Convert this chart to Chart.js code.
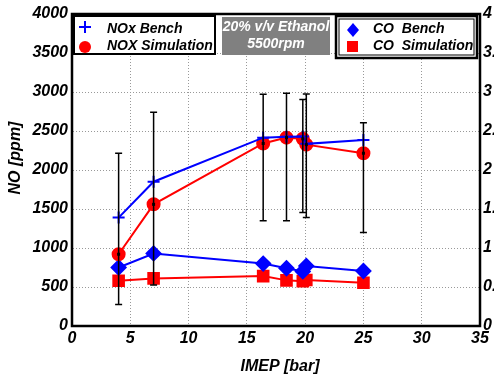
<!DOCTYPE html>
<html>
<head>
<meta charset="utf-8">
<script src="https://cdn.jsdelivr.net/npm/chart.js@4.4.0/dist/chart.umd.min.js"></script>
<style>
  body { margin: 0; background: #fff; }
  #myChart { display: block; }
</style>
</head>
<body>
<canvas id="myChart" width="494" height="383"></canvas>
<script>
// IMEP [bar] of each operating point
const imep = [4, 7, 16.4, 18.4, 19.8, 20.1, 25];
// NOx, ppm (left axis)
const noxBench = [1390, 1850, 2415, 2425, 2430, 2335, 2385];
const noxSim = [920, 1560, 2340, 2415, 2400, 2325, 2215];
// NOx bench scatter (error bar ends), ppm
const noxErrLow = [275, 525, 1350, 1350, 1455, 1390, 1200];
const noxErrHigh = [2215, 2740, 2970, 2985, 2905, 2975, 2605];
// CO (right axis)
const coBench = [0.75, 0.93, 0.80, 0.74, 0.70, 0.77, 0.705];
const coSim = [0.58, 0.61, 0.64, 0.585, 0.575, 0.59, 0.555];

const FONT = 'Liberation Sans, Arial, sans-serif';
const tickFont = { family: FONT, size: 16, style: 'italic', weight: 'bold' };

function pts(ys) {
    return imep.map((x, i) => ({ x: x, y: ys[i] }));
}

const extras = {
    id: 'extras',
    afterDatasetsDraw(chart) {
        const c = chart.ctx, xs = chart.scales.x, ys = chart.scales.y;
        c.save();
        c.strokeStyle = '#000';
        c.fillStyle = '#000';
        c.lineWidth = 1.5;
        imep.forEach((v, i) => {
            const px = xs.getPixelForValue(v);
            const top = ys.getPixelForValue(noxErrHigh[i]);
            const bot = ys.getPixelForValue(noxErrLow[i]);
            c.beginPath();
            c.moveTo(px, top); c.lineTo(px, bot);
            c.moveTo(px - 3.5, top); c.lineTo(px + 3.5, top);
            c.moveTo(px - 3.5, bot); c.lineTo(px + 3.5, bot);
            c.stroke();
            const py = ys.getPixelForValue(noxSim[i]);
            c.fillRect(px - 1.5, py - 1.5, 3, 3);
        });
        c.restore();
    },
    afterDraw(chart) {
        const c = chart.ctx, a = chart.chartArea;
        c.save();
        // frame
        c.strokeStyle = '#000';
        c.lineWidth = 2.5;
        c.strokeRect(a.left, a.top, a.right - a.left, a.bottom - a.top);

        // left legend box
        c.fillStyle = '#fff';
        c.fillRect(74, 16, 141, 38);
        c.lineWidth = 2;
        c.strokeRect(74, 16, 141, 38);
        c.strokeStyle = '#0000ff';
        c.lineWidth = 2;
        c.beginPath();
        c.moveTo(79, 27); c.lineTo(91, 27);
        c.moveTo(85, 21); c.lineTo(85, 33);
        c.stroke();
        c.fillStyle = '#ff0000';
        c.beginPath(); c.arc(85, 47, 6, 0, Math.PI * 2); c.fill();
        c.fillStyle = '#000';
        c.font = 'italic bold 14px ' + FONT;
        c.textAlign = 'left';
        c.textBaseline = 'middle';
        c.fillText('NOx Bench', 107, 29);
        c.fillText('NOX Simulation', 107, 46);

        // grey annotation
        c.fillStyle = '#808080';
        c.fillRect(222, 17, 108, 38);
        c.fillStyle = '#fff';
        c.textAlign = 'center';
        c.fillText('20% v/v Ethanol', 276, 27);
        c.fillText('5500rpm', 276, 44);

        // right legend box
        c.fillStyle = '#fff';
        c.fillRect(336, 16, 141, 42);
        c.strokeStyle = '#000';
        c.lineWidth = 2.5;
        c.strokeRect(336, 16, 141, 42);
        c.lineWidth = 1;
        c.strokeRect(339, 19, 135, 36);
        c.fillStyle = '#0000ff';
        c.beginPath();
        c.moveTo(353, 23); c.lineTo(359, 30); c.lineTo(353, 37); c.lineTo(347, 30);
        c.closePath(); c.fill();
        c.fillStyle = '#ff0000';
        c.fillRect(347, 41, 11, 11);
        c.fillStyle = '#000';
        c.textAlign = 'left';
        c.fillText('CO  Bench', 373, 29);
        c.fillText('CO  Simulation', 373, 46);

        // axis titles
        c.font = 'italic bold 16px ' + FONT;
        c.textAlign = 'center';
        c.fillText('IMEP [bar]', 280, 367);
        c.translate(16, 158);
        c.rotate(-Math.PI / 2);
        c.fillText('NO [ppm]', 0, 0);
        c.restore();
    }
};

const ctx = document.getElementById('myChart').getContext('2d');

new Chart(ctx, {
    type: 'line',
    data: {
        datasets: [
            {
                label: 'NOx Bench',
                data: pts(noxBench),
                yAxisID: 'y',
                borderColor: '#0000ff',
                borderWidth: 2,
                pointStyle: 'cross',
                pointRadius: 6,
                pointBorderWidth: 2,
                pointBorderColor: '#0000ff'
            },
            {
                label: 'NOX Simulation',
                data: pts(noxSim),
                yAxisID: 'y',
                borderColor: '#ff0000',
                borderWidth: 2,
                pointStyle: 'circle',
                pointRadius: 6,
                pointBackgroundColor: '#ff0000',
                pointBorderColor: '#ff0000'
            },
            {
                label: 'CO Bench',
                data: pts(coBench),
                yAxisID: 'y2',
                borderColor: '#0000ff',
                borderWidth: 2,
                pointStyle: 'rectRot',
                pointRadius: 7,
                pointBackgroundColor: '#0000ff',
                pointBorderColor: '#0000ff'
            },
            {
                label: 'CO Simulation',
                data: pts(coSim),
                yAxisID: 'y2',
                borderColor: '#ff0000',
                borderWidth: 2,
                pointStyle: 'rect',
                pointRadius: 7.5,
                pointBackgroundColor: '#ff0000',
                pointBorderColor: '#ff0000'
            }
        ]
    },
    options: {
        responsive: false,
        animation: false,
        layout: { padding: { top: 14, left: 0, right: 0, bottom: 0 } },
        plugins: { legend: { display: false }, tooltip: { enabled: false } },
        scales: {
            x: {
                type: 'linear',
                min: 0, max: 35,
                afterFit: s => { s.height = 57; },
                ticks: { stepSize: 5, autoSkip: false, maxRotation: 0, color: '#000', font: tickFont, padding: 3,
                         callback: v => String(v) },
                grid: { color: '#999', lineWidth: 1, drawTicks: false },
                border: { display: true, color: 'rgba(0,0,0,0)', dash: [1, 2] }
            },
            y: {
                position: 'left',
                min: 0, max: 4000,
                afterFit: s => { s.width = 72; },
                ticks: { stepSize: 500, color: '#000', font: tickFont, padding: 4,
                         callback: v => String(v) },
                grid: { color: '#999', lineWidth: 1, drawTicks: false },
                border: { display: true, color: 'rgba(0,0,0,0)', dash: [1, 2] }
            },
            y2: {
                position: 'right',
                min: 0, max: 4,
                afterFit: s => { s.width = 14; },
                ticks: { stepSize: 0.5, color: '#000', font: tickFont, padding: 3,
                         callback: v => String(v) },
                grid: { display: false, drawTicks: false },
                border: { display: false }
            }
        }
    },
    plugins: [extras]
});
</script>
</body>
</html>
